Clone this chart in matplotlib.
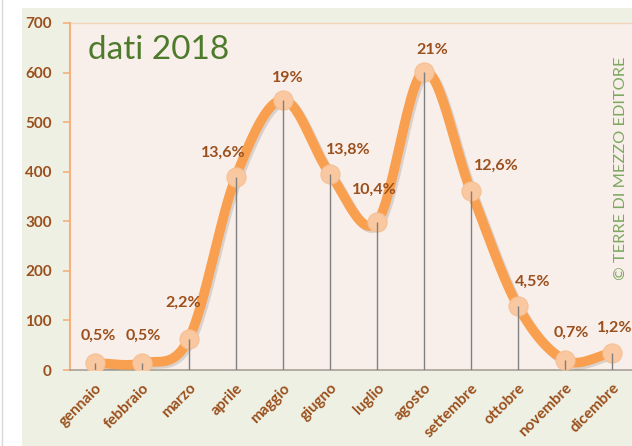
import numpy as np
import matplotlib.pyplot as plt
from matplotlib.patches import Rectangle
import matplotlib.patheffects as pe

mesi = ["gennaio", "febbraio", "marzo", "aprile", "maggio", "giugno",
        "luglio", "agosto", "settembre", "ottobre", "novembre", "dicembre"]
valori = [14, 14, 63, 390, 545, 396, 298, 602, 361, 129, 20, 34]
percentuali = ["0,5%", "0,5%", "2,2%", "13,6%", "19%", "13,8%",
               "10,4%", "21%", "12,6%", "4,5%", "0,7%", "1,2%"]
y_ticks = [0, 100, 200, 300, 400, 500, 600, 700]

# spostamento etichette (pixel)
label_dx = [3, 1, -6, -13, 5, 18, -3, 8, 26, 15, 7, 3]
label_dy = [27, 27, 36, 24, 22, 24, 32, 22, 25, 24, 27, 25]

BROWN = "#9a4f1c"
ORANGE = "#f9a050"
GREEN = "#4e7a2c"


# curva smussata tipo Excel (Catmull-Rom)
def smooth(xs, ys, n=30):
    xs = np.asarray(xs, float)
    ys = np.asarray(ys, float)
    px = np.concatenate([[2 * xs[0] - xs[1]], xs, [2 * xs[-1] - xs[-2]]])
    py = np.concatenate([[2 * ys[0] - ys[1]], ys, [2 * ys[-1] - ys[-2]]])
    out_x, out_y = [], []
    t = np.linspace(0, 1, n)
    for i in range(1, len(px) - 2):
        for p, out in ((px, out_x), (py, out_y)):
            p0, p1, p2, p3 = p[i - 1], p[i], p[i + 1], p[i + 2]
            out.extend(0.5 * ((2 * p1) + (-p0 + p2) * t
                              + (2 * p0 - 5 * p1 + 4 * p2 - p3) * t**2
                              + (-p0 + 3 * p1 - 3 * p2 + p3) * t**3))
    return out_x, out_y


fig = plt.figure(figsize=(6.32, 4.46), dpi=100, facecolor="white")
fig.patches.append(Rectangle((22 / 632, 0), 1, 438 / 446, transform=fig.transFigure,
                             facecolor="#eef0e4", edgecolor="none", zorder=-10))
fig.lines.append(plt.Line2D([2 / 632, 2 / 632], [0, 1], transform=fig.transFigure,
                            color="#d8d8d8", lw=1, zorder=-10))

ax = fig.add_axes([70 / 632, 76 / 446, 1 - 70 / 632, (370 - 23) / 446])
ax.set_zorder(1)
ax.set_facecolor("#f9efea")
x = np.arange(len(mesi))
ax.set_xlim(-0.53, 11.43)
ax.set_ylim(0, 700)

sx, sy = smooth(x, valori)
ax.plot(sx, sy, color=ORANGE, lw=7, solid_capstyle="round", zorder=3,
        path_effects=[pe.SimpleLineShadow(offset=(1.5, -1.5), alpha=0.12), pe.Normal()])
ax.scatter(x, valori, s=190, color="#f9c8a0", edgecolor="#f6c094", lw=0.8, zorder=4)
ax.vlines(x, 0, valori, color="#7f7f7f", lw=1, zorder=5)

for i in range(len(mesi)):
    ax.annotate(percentuali[i], (x[i], valori[i]), xytext=(label_dx[i], label_dy[i]),
                textcoords="offset pixels", ha="center", va="center",
                color=BROWN, fontsize=11.5, fontweight="bold", family="Lato", zorder=6)

ax.set_yticks(y_ticks)
ax.set_yticklabels([str(v) for v in y_ticks], color=BROWN, fontsize=11,
                   fontweight="bold", family="Lato")
ax.set_xticks(x)
ax.set_xticklabels(mesi, rotation=45, ha="right", va="top", rotation_mode="anchor",
                   color=BROWN, fontsize=11, fontweight="bold", family="Lato")
ax.tick_params(axis="y", color="#f5b07c", length=5, width=1.2, pad=8)
ax.tick_params(axis="x", length=0, pad=8)

for s in ["top", "right"]:
    ax.spines[s].set_visible(False)
ax.spines["left"].set_color("#f5b07c")
ax.spines["left"].set_linewidth(1.5)
ax.spines["bottom"].set_color("#a8a198")
ax.spines["bottom"].set_linewidth(1.2)
ax.plot([0, 1], [1, 1], transform=ax.transAxes, color="#f5d4bc", lw=1, clip_on=False)

ax.text(88 / 632, 1 - 50 / 446, "dati 2018", color=GREEN, fontsize=24,
        family="Lato", va="center", ha="left", transform=fig.transFigure, zorder=7)
ax.text(621 / 632, 1 - 168 / 446, "© TERRE DI MEZZO EDITORE", color="#7ea862",
        fontsize=11.8, family="Lato", rotation=90, ha="center", va="center",
        transform=fig.transFigure, zorder=7, clip_on=False)

fig.savefig("out.png", dpi=100, facecolor="white")
